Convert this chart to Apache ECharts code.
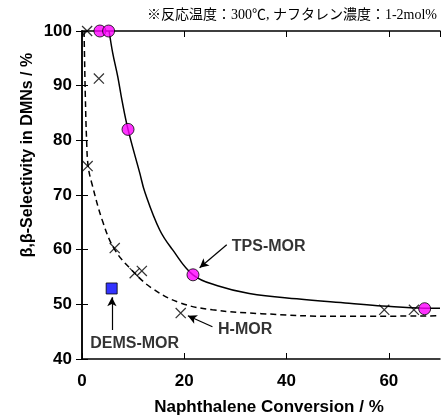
<!DOCTYPE html>
<html>
<head>
<meta charset="utf-8">
<script src="https://cdn.jsdelivr.net/npm/echarts@6/dist/echarts.min.js"></script>
<style>
  html, body { margin: 0; padding: 0; background: #fff; }
  #chart { width: 441px; height: 419px; }
</style>
</head>
<body>
<div id="chart"></div>
<script>
// Measured points: [conversion %, selectivity %]
const tpsMor = [[3.5, 100], [5.2, 100], [9.0, 82], [21.7, 55.4], [67.0, 49.2]];
const hMor = [[1.0, 100], [3.3, 91.3], [1.1, 75.3], [6.4, 60.3], [10.3, 55.7], [11.7, 56.1],
              [19.3, 48.4], [59.1, 49.0], [64.9, 49.0]];
const demsMor = [[5.8, 52.9]];

// Fitted trend curves
const tpsCurve = [[5.3, 100], [6.0, 96], [7.0, 91.6], [7.8, 87.4], [9.0, 82], [11.3, 74],
                  [12.3, 70.5], [15.2, 63.6], [17.7, 60], [21.7, 55.4], [26.5, 53.4],
                  [32.7, 52.0], [42, 51], [52.2, 50.2], [58.7, 49.7], [67.0, 49.3], [70, 49.3]];
const hCurve = [[0.4, 100], [0.5, 95], [0.65, 88], [0.9, 80], [1.2, 75.3], [1.9, 72.2],
                [4.1, 65], [6.4, 60], [9.7, 56.3], [13.6, 53], [19.1, 50.3], [25.5, 49],
                [35, 48.3], [50, 47.8], [70, 47.9]];

// Callouts: arrow tail -> head, label anchor
const calloutArrows = [
  [[28.3, 60.9], [23.0, 56.7]],
  [[25.5, 45.9], [20.7, 47.9]],
  [[5.85, 45.3], [5.85, 51.3]]
];
const calloutLabels = [
  { name: 'TPS-MOR', value: [29.3, 60.5], align: 'left' },
  { name: 'H-MOR', value: [26.6, 45.3], align: 'left' },
  { name: 'DEMS-MOR', value: [10.3, 42.9], align: 'center' }
];

const xTicks = { min: 0, max: 70, interval: 20 };
const yTicks = { min: 40, max: 100, interval: 10 };

const crossPath = 'path://M0,0.8L0.8,0L10,9.2L9.2,10Z M9.2,0L10,0.8L0.8,10L0,9.2Z';
const tickFont = { fontFamily: 'Liberation Sans, Arial, sans-serif', fontWeight: 'bold', fontSize: 17, color: '#000' };
const lineAx = { lineStyle: { color: '#000', width: 1.5 } };
const tickStyle = { inside: true, length: 6, lineStyle: { color: '#000', width: 1 } };

const chart = echarts.init(document.getElementById('chart'), null, { renderer: 'canvas' });
chart.setOption({
  animation: false,
  grid: { left: 82, top: 31, right: 1, bottom: 60 },
  xAxis: [
    { type: 'value', position: 'bottom', min: xTicks.min, max: xTicks.max, interval: xTicks.interval,
      axisLine: lineAx, axisTick: tickStyle,
      axisLabel: Object.assign({ margin: 14, showMaxLabel: false }, tickFont), splitLine: { show: false } },
    { type: 'value', position: 'top', min: xTicks.min, max: xTicks.max, interval: xTicks.interval,
      axisLine: lineAx, axisTick: tickStyle, axisLabel: { show: false }, splitLine: { show: false } }
  ],
  yAxis: [
    { type: 'value', position: 'left', min: yTicks.min, max: yTicks.max, interval: yTicks.interval,
      axisLine: lineAx, axisTick: tickStyle,
      axisLabel: Object.assign({ margin: 10, padding: [6, 0, 0, 0] }, tickFont), splitLine: { show: false } },
    { type: 'value', position: 'right', min: yTicks.min, max: yTicks.max, interval: yTicks.interval,
      axisLine: lineAx, axisTick: tickStyle, axisLabel: { show: false }, splitLine: { show: false } }
  ],
  graphic: [
    { type: 'text', x: 437, y: 15,
      style: { text: '※反応温度：300℃, ナフタレン濃度：1-2mol%', align: 'right', verticalAlign: 'middle',
               font: '14px "Liberation Serif", "Noto Sans CJK JP", serif', fill: '#000' } },
    { type: 'text', x: 28, y: 155, rotation: Math.PI / 2,
      style: { text: 'β,β-Selectivity in DMNs / %', align: 'center', verticalAlign: 'middle',
               font: 'bold 16px "Liberation Sans", Arial, sans-serif', fill: '#000' } },
    { type: 'text', x: 269, y: 407,
      style: { text: 'Naphthalene Conversion / %', align: 'center', verticalAlign: 'middle',
               font: 'bold 17px "Liberation Sans", Arial, sans-serif', fill: '#000' } }
  ],
  series: [
    { name: 'tps-fit', type: 'line', data: tpsCurve, smooth: 0.4, showSymbol: false, z: 2,
      lineStyle: { color: '#000', width: 1.5 }, silent: true },
    { name: 'h-fit', type: 'line', data: hCurve, smooth: 0.4, showSymbol: false, z: 2,
      lineStyle: { color: '#000', width: 1.5, type: [6, 4] }, silent: true },
    { name: 'H-MOR', type: 'scatter', data: hMor, symbol: crossPath, symbolSize: 11, z: 3,
      itemStyle: { color: '#000' } },
    { name: 'TPS-MOR', type: 'scatter', data: tpsMor, symbol: 'circle', symbolSize: 12, z: 4,
      itemStyle: { color: '#ff00ff', borderColor: '#000', borderWidth: 1 } },
    { name: 'DEMS-MOR', type: 'scatter', data: demsMor, symbol: 'rect', symbolSize: 11, z: 4,
      itemStyle: { color: '#0000ff', borderColor: '#000', borderWidth: 1 } },
    { name: 'callouts', type: 'line', data: [], z: 5,
      markLine: {
        silent: true, symbol: ['none', 'arrow'], symbolSize: [7, 9],
        lineStyle: { color: '#000', width: 1.2, type: 'solid' }, label: { show: false },
        data: calloutArrows.map(a => [{ coord: a[0] }, { coord: a[1] }])
      } },
    { name: 'labels', type: 'scatter', symbolSize: 0, z: 6, silent: true,
      data: calloutLabels.map(l => ({
        name: l.name, value: l.value,
        label: { show: true, position: 'inside', formatter: '{b}', align: l.align,
                 fontFamily: 'Liberation Sans, Arial, sans-serif', fontWeight: 'bold', fontSize: 16, color: '#000' }
      })) }
  ]
});
</script>
</body>
</html>
